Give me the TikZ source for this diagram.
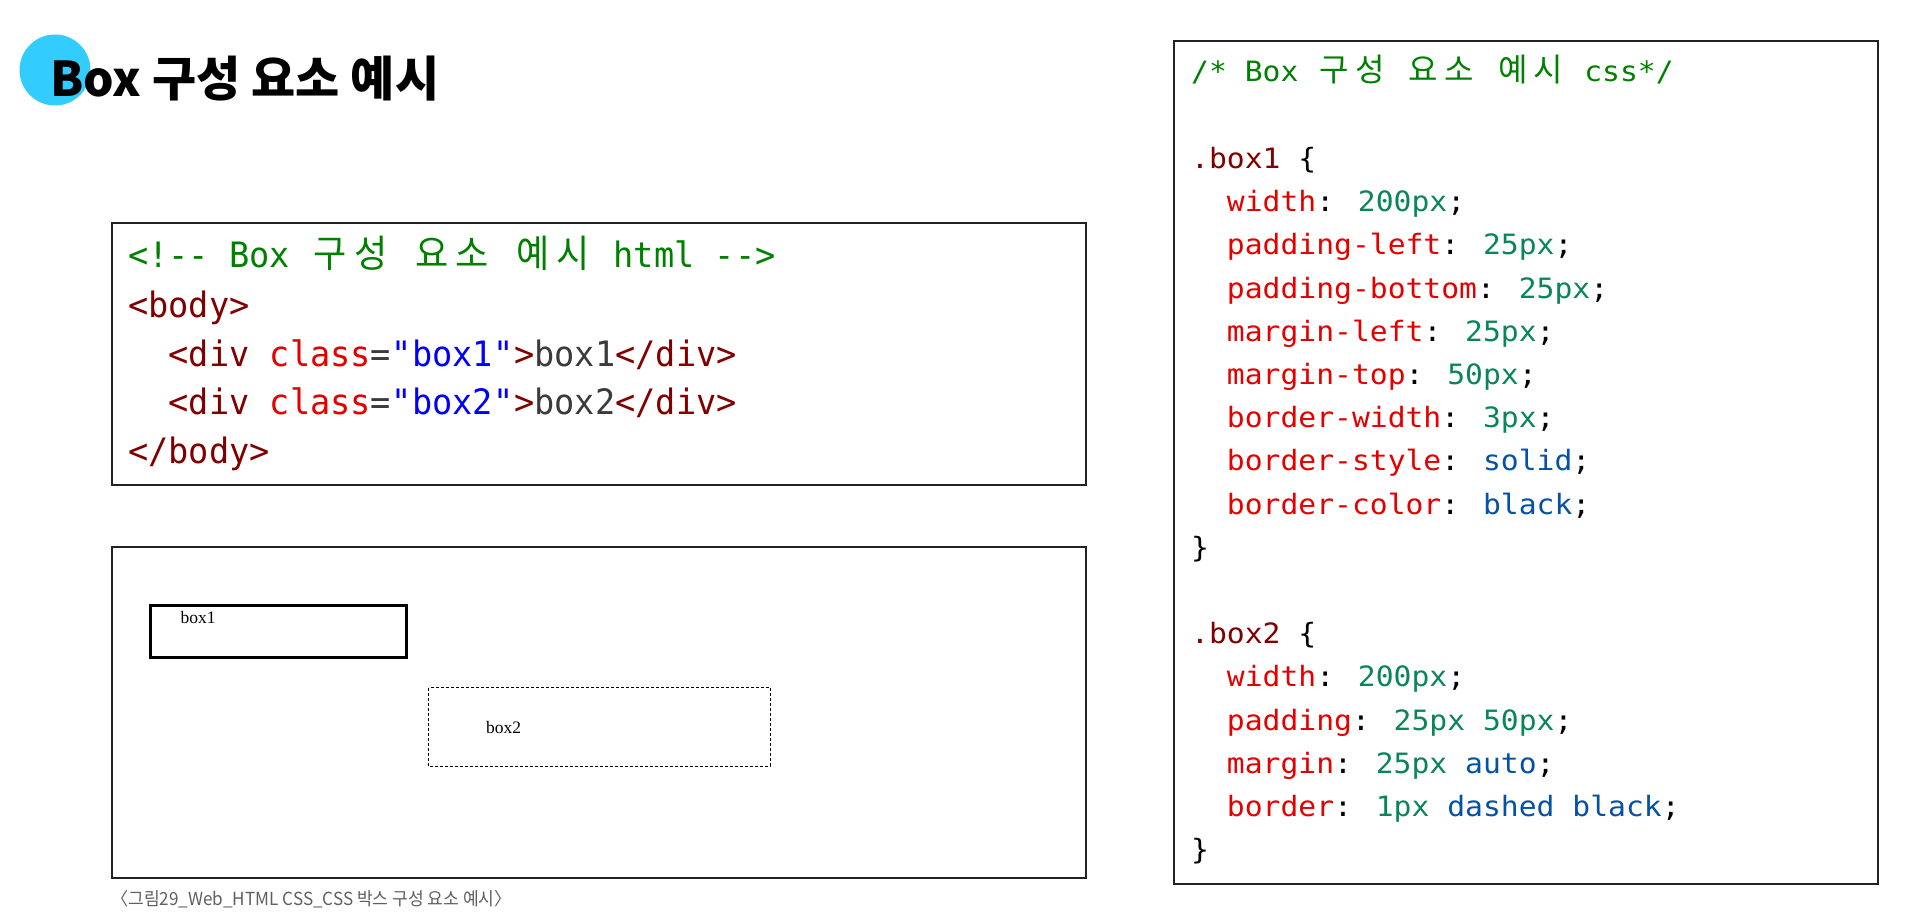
\documentclass[tikz,border=0pt]{standalone}
\usepackage{fontspec}
\setmainfont{Liberation Serif}
\newfontfamily\hmono[FakeStretch=0.96]{DejaVu Sans Mono}
\newfontfamily\cmono[FakeStretch=1.06]{DejaVu Sans Mono}
\newfontfamily\krfont{Noto Sans CJK KR}
\newfontfamily\hkrfont[FakeStretch=0.95]{Noto Sans CJK KR}
\newfontfamily\ckrfont{Noto Sans CJK KR}
\newfontfamily\capfont[FakeStretch=0.95]{Noto Sans CJK KR}
\newfontfamily\serifx{Liberation Serif}
\definecolor{cmt}{HTML}{008000}
\definecolor{tag}{HTML}{800000}
\definecolor{attr}{HTML}{E50000}
\definecolor{str}{HTML}{0000FF}
\definecolor{txt}{HTML}{3B3B3B}
\definecolor{num}{HTML}{098658}
\definecolor{val}{HTML}{0451A5}
\definecolor{dot}{RGB}{51,204,255}
\definecolor{frame}{HTML}{222222}
\definecolor{capgray}{HTML}{5F5F5F}
\newlength\hcell \setlength\hcell{20.23pt}
\newlength\ccell \setlength\ccell{17.87pt}
\newcommand\hk[1]{\makebox[2\hcell][c]{\hkrfont\fontsize{38}{38}\selectfont #1}}
\newcommand\ck[1]{\makebox[2\ccell][c]{\ckrfont\fontsize{32}{32}\selectfont #1}}
\newcommand\hind{\hspace*{2\hcell}}
\newcommand\cind{\hspace*{2\ccell}}
\tikzset{
  hl/.style={anchor=base west, inner sep=0pt, font=\hmono\fontsize{35}{35}\selectfont},
  cl/.style={anchor=base west, inner sep=0pt, font=\cmono\fontsize{28}{28}\selectfont},
  panel/.style={draw=frame, line width=1.5pt},
  pv/.style={anchor=base west, inner sep=0pt, font=\serifx\fontsize{17.5}{17.5}\selectfont}
}
\begin{document}
\begin{tikzpicture}[x=1pt,y=-1pt]
\useasboundingbox (0,0) rectangle (1917,920);
% title
\fill[dot] (55,70) circle (35.5);
\node[anchor=base west, inner sep=0pt, font=\krfont\bfseries\fontsize{48}{48}\selectfont] (title) at (50,97) {Box 구성 요소 예시};
% html panel
\draw[panel] (112,223) rectangle (1086,485);
\node[hl] (h1) at (128,268) {\color{cmt}<!-{}- Box \hk{구}\hk{성} \hk{요}\hk{소} \hk{예}\hk{시} html -{}->};
\node[hl] (h2) at (128,317) {\color{tag}<body>};
\node[hl] (h3) at (128,366) {\hind\color{tag}<div \color{attr}class\color{txt}=\color{str}\textquotedbl box1\textquotedbl\color{tag}>\color{txt}box1\color{tag}</div>};
\node[hl] (h4) at (128,414) {\hind\color{tag}<div \color{attr}class\color{txt}=\color{str}\textquotedbl box2\textquotedbl\color{tag}>\color{txt}box2\color{tag}</div>};
\node[hl] (h5) at (128,463) {\color{tag}</body>};
% preview panel
\draw[panel] (112,547) rectangle (1086,878);
\draw[black, line width=3pt] (150.5,605.5) rectangle (406.5,657.5);
\node[pv] (b1) at (180.5,623) {box1};
\draw[black, line width=1pt, dash pattern=on 3pt off 2pt] (428.5,687.5) rectangle (770,766);
\node[pv] (b2) at (486,733) {box2};
% caption
\node[anchor=west, inner sep=0pt, text=capgray, font=\capfont\fontsize{18}{18}\selectfont] (cap) at (111,899) {〈그림29\_Web\_HTML CSS\_CSS 박스 구성 요소 예시〉};
% css panel
\draw[panel] (1174,41) rectangle (1878,884);
\node[cl] (c0) at (1191,82) {\color{cmt}/* Box \ck{구}\ck{성} \ck{요}\ck{소} \ck{예}\ck{시} css*/};
\node[cl] (c2) at (1191,168.4) {\color{tag}.box1 \color{black}\{};
\node[cl] (c3) at (1191,211.6) {\cind\color{attr}width\color{black}: \color{num}200px\color{black};};
\node[cl] (c4) at (1191,254.8) {\cind\color{attr}padding-left\color{black}: \color{num}25px\color{black};};
\node[cl] (c5) at (1191,298.0) {\cind\color{attr}padding-bottom\color{black}: \color{num}25px\color{black};};
\node[cl] (c6) at (1191,341.2) {\cind\color{attr}margin-left\color{black}: \color{num}25px\color{black};};
\node[cl] (c7) at (1191,384.4) {\cind\color{attr}margin-top\color{black}: \color{num}50px\color{black};};
\node[cl] (c8) at (1191,427.6) {\cind\color{attr}border-width\color{black}: \color{num}3px\color{black};};
\node[cl] (c9) at (1191,470.8) {\cind\color{attr}border-style\color{black}: \color{val}solid\color{black};};
\node[cl] (c10) at (1191,514.0) {\cind\color{attr}border-color\color{black}: \color{val}black\color{black};};
\node[cl] (c11) at (1191,557.2) {\color{black}\}};
\node[cl] (c13) at (1191,643.6) {\color{tag}.box2 \color{black}\{};
\node[cl] (c14) at (1191,686.8) {\cind\color{attr}width\color{black}: \color{num}200px\color{black};};
\node[cl] (c15) at (1191,730.0) {\cind\color{attr}padding\color{black}: \color{num}25px 50px\color{black};};
\node[cl] (c16) at (1191,773.2) {\cind\color{attr}margin\color{black}: \color{num}25px \color{val}auto\color{black};};
\node[cl] (c17) at (1191,816.4) {\cind\color{attr}border\color{black}: \color{num}1px \color{val}dashed black\color{black};};
\node[cl] (c18) at (1191,859.6) {\color{black}\}};
\end{tikzpicture}
\end{document}
